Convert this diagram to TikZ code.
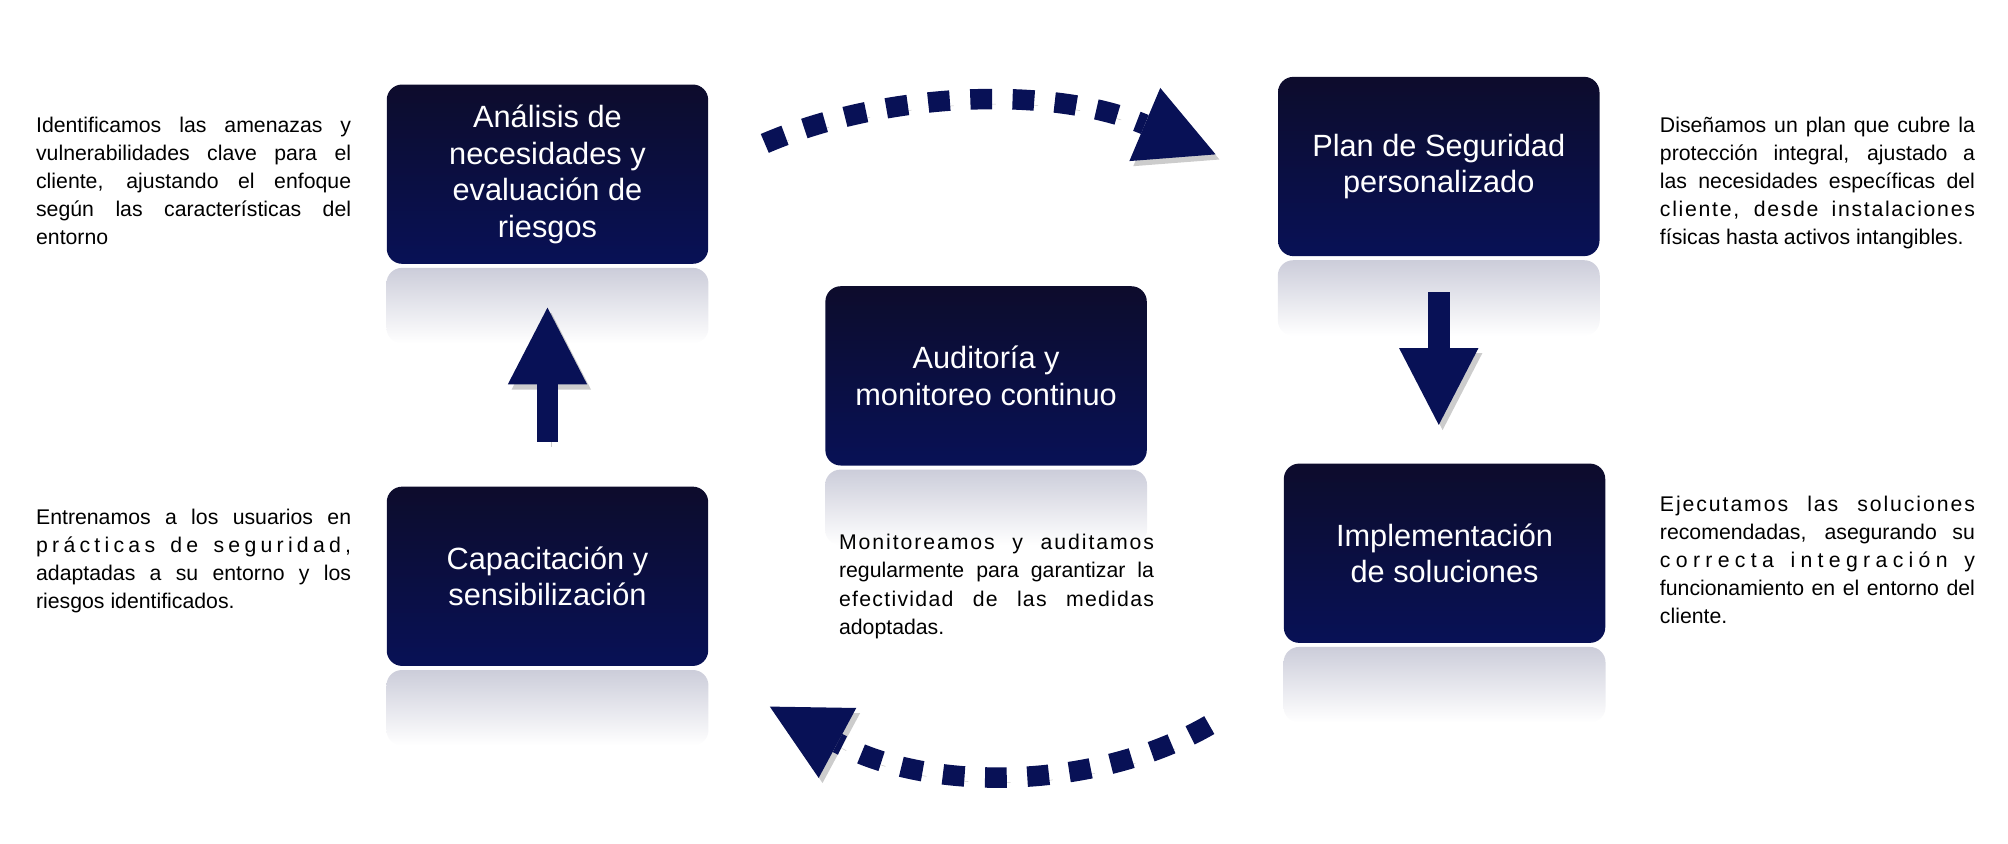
\documentclass[tikz,border=0pt]{standalone}
\usepackage{fontspec}
\setmainfont{Liberation Sans}
\usetikzlibrary{arrows.meta}

\definecolor{navy}{RGB}{8,17,86}
\definecolor{navytop}{RGB}{13,12,44}
\definecolor{reflgray}{RGB}{204,205,218}

\newcommand{\lspread}[2]{{\addfontfeatures{LetterSpace=#1}#2}}

\tikzset{
  stage/.style={rounded corners=12pt, minimum width=251pt, minimum height=140pt,
    top color=navytop, bottom color=navy, text=white, align=center, inner sep=0pt,
    font=\fontsize{24}{28.5}\selectfont},
  blurb/.style={anchor=north west, text width=246pt, align=justify, inner sep=0pt,
    font=\fontsize{16.6}{22}\selectfont},
  bigtip/.style={-{Triangle[width=62pt,length=60pt,line width=0pt]}},
  softshadow/.style={preaction={draw=black, opacity=.2, #1,
    transform canvas={shift={(3pt,-4pt)}}}},
  softshadow/.default={},
  blockarrow/.style={draw=navy, line width=17pt, bigtip, softshadow},
  loopdash/.style={draw=navy, line width=16pt, dash pattern=on 17pt off 16pt,
    shorten >=-58pt, bigtip, softshadow={dash pattern=on 17pt off 16pt}}
}

\begin{document}
\begin{tikzpicture}[x=1pt,y=-1pt]
\useasboundingbox (0,0) rectangle (1568,659);

% stages
\node[stage] (A) at (427.5,136) {Análisis de\\necesidades y\\evaluación de\\riesgos};
\node[stage] (P) at (1123.5,130) {Plan de Seguridad\\personalizado};
\node[stage] (M) at (770,293.5) {Auditoría y\\monitoreo continuo};
\node[stage] (C) at (427.5,450) {Capacitación y\\sensibilización};
\node[stage] (I) at (1128,432) {Implementación\\de soluciones};

% reflections
\foreach \n in {A,P,M,C,I}
  \shade[top color=reflgray, bottom color=white, rounded corners=12pt]
    ([yshift=-3pt]\n.south west) rectangle ([yshift=-62pt]\n.south east);

% descriptions
\node[blurb] (tA) at (28,91) {Identificamos las amenazas y\linebreak
  vulnerabilidades clave para el\linebreak cliente, ajustando el enfoque\linebreak
  según las características del\linebreak entorno};
\node[blurb] (tP) at (1296,91) {Diseñamos un plan que cubre la\linebreak
  protección integral, ajustado a\linebreak las necesidades específicas del\linebreak
  \lspread{8}{cliente, desde instalaciones}\linebreak físicas hasta activos intangibles.};
\node[blurb] (tI) at (1296,387) {\lspread{9}{Ejecutamos las soluciones}\linebreak
  recomendadas, asegurando su\linebreak \lspread{25}{correcta integración y}\linebreak
  funcionamiento en el entorno del\linebreak cliente.};
\node[blurb] (tM) at (655,417) {\lspread{9}{Monitoreamos y auditamos}\linebreak
  regularmente para garantizar la\linebreak \lspread{6}{efectividad de las medidas}\linebreak
  adoptadas.};
\node[blurb] (tC) at (28,397) {Entrenamos a los usuarios en\linebreak
  \lspread{20}{prácticas de seguridad,}\linebreak adaptadas a su entorno y los\linebreak
  riesgos identificados.};

% straight arrows
\draw[blockarrow, shorten <=35pt, shorten >=34pt] (C.north) -- (A.south);
\draw[blockarrow, shorten <=28pt, shorten >=30pt] (P.south) -- (P.south |- I.north);

% curved dashed arrows
\coordinate (a1) at ([shift={(44,-24)}]A.east);
\coordinate (p1) at ([shift={(-102,-32)}]P.west);
\coordinate (i1) at ([shift={(-58,64)}]I.south west);
\coordinate (c1) at ([shift={(99,59)}]C.south east);
\draw[loopdash] (a1) .. controls (690,72) and (820,66) .. (p1);
\draw[loopdash] (i1) .. controls (860,615) and (730,621) .. (c1);
\end{tikzpicture}
\end{document}
